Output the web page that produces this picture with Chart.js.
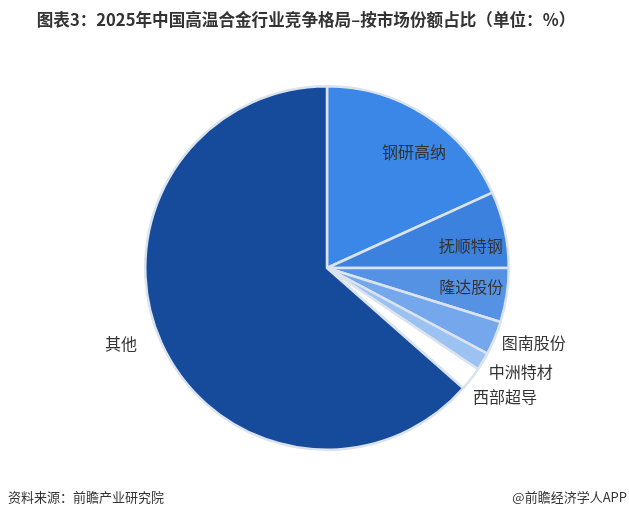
<!DOCTYPE html>
<html>
<head>
<meta charset="utf-8">
<script src="https://cdn.jsdelivr.net/npm/chart.js@4.4.1/dist/chart.umd.min.js"></script>
<style>
	html, body { margin: 0; padding: 0; background: #fff; }
	#wrap { width: 629px; height: 518px; position: relative; }
</style>
</head>
<body>
<div id="wrap"><canvas id="shareChart"></canvas></div>
<script>
// 2025年中国高温合金行业竞争格局（按市场份额，%）
var companies = ['钢研高纳', '抚顺特钢', '隆达股份', '图南股份', '中洲特材', '西部超导', '其他'];
var shares = [18.2, 6.8, 4.8, 3.0, 1.6, 2.1, 63.5];
var colors = ['#3a87e8', '#3c81de', '#5692e4', '#74a7eb', '#9cc2f2', '#ffffff', '#164b9c'];

var titleText = '图表3：2025年中国高温合金行业竞争格局–按市场份额占比（单位：%）';
var sourceText = '资料来源：前瞻产业研究院';
var brandText = '@前瞻经济学人APP';

var FONT = '"Noto Sans CJK SC", "Noto Sans", sans-serif';

// small angle tweaks (radians) so labels sit where the original put them
var labelNudge = [0.07, 0.06, -0.02, -0.05, -0.05, -0.03, 0.07];

// slice labels: inside for mid-size slices, outside for the small ones and 其他
var sliceLabels = {
	id: 'sliceLabels',
	afterDatasetsDraw: function (chart) {
		var ctx = chart.ctx;
		var arcs = chart.getDatasetMeta(0).data;
		ctx.save();
		ctx.font = '16px ' + FONT;
		ctx.fillStyle = '#333';
		ctx.textAlign = 'center';
		ctx.textBaseline = 'middle';
		arcs.forEach(function (arc, i) {
			var v = shares[i];
			var a = (arc.startAngle + arc.endAngle) / 2 + labelNudge[i];
			var inside = v >= 4 && v < 50;
			var r = inside ? arc.outerRadius * 0.8 : arc.outerRadius + 38;
			ctx.fillText(companies[i], arc.x + Math.cos(a) * r, arc.y + Math.sin(a) * r);
		});
		ctx.restore();
	},
};

// title and footer text
var pageText = {
	id: 'pageText',
	afterDraw: function (chart) {
		var ctx = chart.ctx;
		ctx.save();
		ctx.fillStyle = '#333';
		ctx.textBaseline = 'middle';
		ctx.textAlign = 'center';
		ctx.font = 'bold 16.6px ' + FONT;
		ctx.fillText(titleText, 306, 20);
		ctx.font = '13px ' + FONT;
		ctx.textAlign = 'left';
		ctx.fillText(sourceText, 8, 497);
		ctx.textAlign = 'right';
		ctx.fillText(brandText, 627, 497);
		ctx.restore();
	},
};

var whiteBg = {
	id: 'whiteBg',
	beforeDraw: function (chart) {
		var ctx = chart.ctx;
		ctx.save();
		ctx.fillStyle = '#fff';
		ctx.fillRect(0, 0, chart.width, chart.height);
		ctx.restore();
	},
};

var shareChart = new Chart(document.getElementById('shareChart'), {
	type: 'pie',
	data: {
		labels: companies,
		datasets: [
			{
				data: shares,
				backgroundColor: colors,
				borderColor: '#dbe3ee',
				borderWidth: 2.5,
			},
		],
	},
	options: {
		responsive: true,
		maintainAspectRatio: false,
		animation: false,
		layout: {
			padding: { left: 144, right: 119, top: 85, bottom: 67 },
		},
		plugins: {
			legend: { display: false },
			tooltip: { enabled: false },
			title: { display: false },
		},
	},
	plugins: [whiteBg, sliceLabels, pageText],
});
</script>
</body>
</html>
